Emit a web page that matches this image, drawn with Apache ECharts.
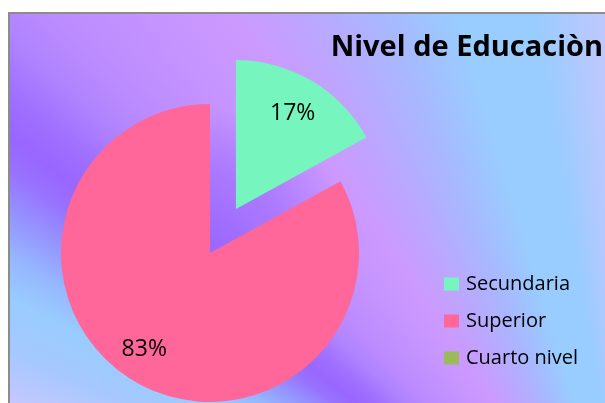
<!DOCTYPE html>
<html>
<head>
<meta charset="utf-8">
<title>Nivel de Educaciòn</title>
<script src="https://cdn.jsdelivr.net/npm/echarts@6/dist/echarts.min.js"></script>
<style>
    html, body { margin: 0; padding: 0; background: #fff; }
    #chart { width: 605px; height: 403px; }
</style>
</head>
<body>
<div id="chart"></div>
<script>
// datos (porcentajes)
var categorias = ['Secundaria', 'Superior', 'Cuarto nivel'];
var valores = [17, 83, 0];
var colores = ['#76F5BE', '#FF6699', '#9BBB59'];

// fondo: degradado tipo "arcoiris" de Excel, aproximado con un degradado conico
var fondoParadas = [
    [15, '#CCCCFF'], [19, '#C4C8FF'], [23, '#A6C8FF'], [27, '#99CCFF'],
    [30, '#96B6FF'], [33, '#9592FF'], [35.5, '#9872FF'], [37.5, '#9966FF'],
    [40, '#A070FF'], [43, '#B084FF'], [46, '#BC8CFF'], [51, '#C594FF'],
    [56, '#CC99FF'], [61, '#BCA6FF'], [67, '#A8B8FF'], [73, '#99CCFF'],
    [80, '#99CCFF'], [86, '#BCC8FF'], [95, '#C8CCFF']
];

var fuente = '"Open Sans", "Noto Sans", sans-serif';

var fondo = document.createElement('canvas');
fondo.width = 605;
fondo.height = 403;
var ctx = fondo.getContext('2d');
var grad = ctx.createConicGradient(Math.PI, 640, 620);
fondoParadas.forEach(function (p) {
    grad.addColorStop(p[0] / 360, p[1]);
});
ctx.fillStyle = grad;
ctx.fillRect(0, 0, 605, 403);
// mancha morada alrededor del centro del pastel
var brillo = ctx.createRadialGradient(215, 245, 0, 215, 245, 135);
brillo.addColorStop(0, 'rgba(153,102,255,0.85)');
brillo.addColorStop(0.55, 'rgba(153,102,255,0.5)');
brillo.addColorStop(1, 'rgba(153,102,255,0)');
ctx.fillStyle = brillo;
ctx.fillRect(0, 0, 605, 403);

var total = valores.reduce(function (a, b) { return a + b; }, 0);

function anguloMedio(i) {
    var antes = 0;
    for (var k = 0; k < i; k++) antes += valores[k];
    return (antes + valores[i] / 2) / total * Math.PI * 2;
}

var myChart = echarts.init(document.getElementById('chart'), null, { renderer: 'canvas' });

myChart.setOption({
    animation: false,
    backgroundColor: '#fff',
    graphic: [
        {
            type: 'rect',
            z: -10,
            silent: true,
            shape: { x: 9, y: 13, width: 640, height: 440 },
            style: {
                fill: { image: fondo, repeat: 'no-repeat' },
                stroke: '#8C8C8C',
                lineWidth: 2
            }
        }
    ],
    title: {
        text: 'Nivel de Educaciòn',
        right: 2,
        top: 33,
        padding: 0,
        textStyle: {
            fontFamily: fuente,
            fontWeight: 'bold',
            fontSize: 29,
            color: '#000'
        }
    },
    legend: {
        orient: 'vertical',
        left: 444,
        top: 274,
        padding: 0,
        itemWidth: 15,
        itemHeight: 13,
        itemGap: 17,
        icon: 'rect',
        selectedMode: false,
        data: categorias,
        textStyle: {
            fontFamily: fuente,
            fontSize: 20,
            color: '#000',
            padding: [0, 0, 0, 2]
        }
    },
    series: [
        {
            type: 'pie',
            center: [210, 253],
            radius: 149,
            startAngle: 90,
            clockwise: true,
            selectedMode: 'single',
            selectedOffset: 51,
            avoidLabelOverlap: false,
            itemStyle: { borderWidth: 0 },
            select: { itemStyle: { borderWidth: 0 } },
            emphasis: { disabled: true },
            label: {
                show: true,
                position: 'inside',
                formatter: '{d}%',
                fontFamily: fuente,
                fontSize: 23,
                color: '#000'
            },
            labelLine: { show: false },
            labelLayout: function (p) {
                var a = anguloMedio(p.dataIndex);
                var extra = 34;
                return { dx: extra * Math.sin(a) - (p.dataIndex === 1 ? 9 : 0), dy: -extra * Math.cos(a) };
            },
            data: categorias.map(function (c, i) {
                return {
                    name: c,
                    value: valores[i],
                    selected: i === 0,
                    itemStyle: { color: colores[i] },
                    label: { show: valores[i] > 0 }
                };
            })
        }
    ]
});
</script>
</body>
</html>
